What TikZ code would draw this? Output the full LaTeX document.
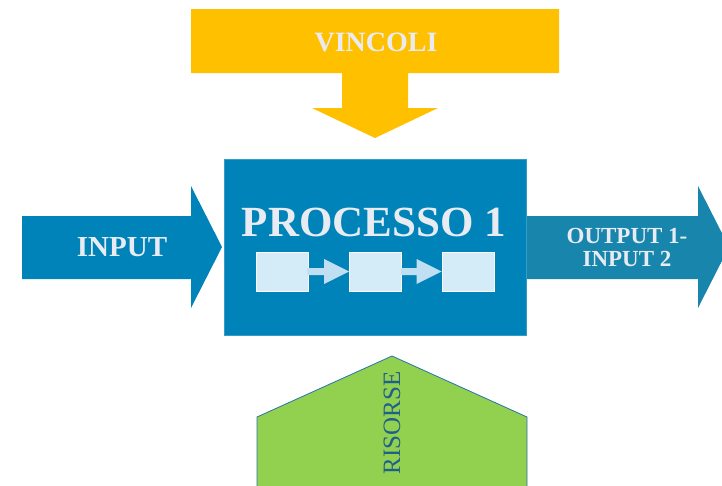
\documentclass[tikz,border=0pt]{standalone}
\usepackage{fontspec}
\setmainfont{Liberation Serif}
\usetikzlibrary{calc}
\definecolor{giallo}{RGB}{255,192,0}
\definecolor{blu}{RGB}{0,131,185}
\definecolor{bluout}{RGB}{24,134,172}
\definecolor{celeste}{RGB}{212,236,247}
\definecolor{freccina}{RGB}{192,223,243}
\definecolor{verde}{RGB}{146,208,80}
\definecolor{testo}{RGB}{232,236,242}
\definecolor{bordo}{RGB}{40,115,170}
\definecolor{scuro}{RGB}{31,95,140}
\tikzstyle{titolo}          =[text=testo, font=\bfseries, inner sep=0pt]
\tikzstyle{casella}         =[draw=white, line width=0.8pt, fill=celeste, minimum width=52pt, minimum height=39pt, inner sep=0pt]

\begin{document}
\begin{tikzpicture}[x=1pt,y=-1pt]
\useasboundingbox (0,0) rectangle (722,485);
\clip (0,0) rectangle (722,485);

%%%%%%%%%%%%%%%%%%%%%%%%
%Freccia dei vincoli (dall'alto)
%%%%%%%%%%%%%%%%%%%%%%%%
\fill[giallo] (191,9) -- (559,9) -- (559,73) -- (408,73) -- (408,108) -- (438,108) -- (375,138)
  -- (312,108) -- (342,108) -- (342,73) -- (191,73) -- cycle;
\node[titolo, font=\fontsize{28}{28}\selectfont\bfseries] (vincoli) at (376,42) {VINCOLI};

%%%%%%%%%%%%%%%%%%%%%%%%
%Freccia di ingresso
%%%%%%%%%%%%%%%%%%%%%%%%
\fill[blu] (22,216) -- (191,216) -- (191,186) -- (222,247) -- (191,308) -- (191,279) -- (22,279) -- cycle;
\node[titolo, font=\fontsize{29}{29}\selectfont\bfseries] (input) at (122,247) {INPUT};

%%%%%%%%%%%%%%%%%%%%%%%%
%Blocco del processo
%%%%%%%%%%%%%%%%%%%%%%%%
\draw[blu!80!white, fill=blu, line width=0.6pt] (224,159) rectangle (526,335);
\node[titolo, font=\fontsize{43}{43}\selectfont\bfseries] (processo) at (374,222) {PROCESSO 1};

%caselle interne
\node[casella] (b1) at (282,271.5) {};
\node[casella] (b2) at (375.5,271.5) {};
\node[casella] (b3) at (468,271.5) {};

%frecce tra le caselle
\foreach \a/\b in {b1/b2,b2/b3}{
  \fill[freccina] ($(\a.east)+(-1,-3.5)$) -- ($(\b.west)+(-25,-3.5)$) -- ($(\b.west)+(-25,-12.5)$)
    -- (\b.west) -- ($(\b.west)+(-25,12.5)$) -- ($(\b.west)+(-25,3.5)$) -- ($(\a.east)+(-1,3.5)$) -- cycle;
}

%%%%%%%%%%%%%%%%%%%%%%%%
%Freccia di uscita
%%%%%%%%%%%%%%%%%%%%%%%%
\fill[bluout] (527,216) -- (698,216) -- (698,186) -- (729,247) -- (698,308) -- (698,279) -- (527,279) -- cycle;
\node[titolo, align=center, font=\fontsize{23}{23}\selectfont\bfseries] (output) at (627,247) {OUTPUT 1-\\INPUT 2};

%%%%%%%%%%%%%%%%%%%%%%%%
%Risorse (dal basso)
%%%%%%%%%%%%%%%%%%%%%%%%
\draw[bordo, fill=verde, line width=0.8pt] (257,495) -- (257,417) -- (392,356) -- (527,417) -- (527,495);
\node[text=scuro, rotate=90, inner sep=0pt, font=\fontsize{25}{25}\selectfont] (risorse) at (392,423) {RISORSE};

\end{tikzpicture}
\end{document}
